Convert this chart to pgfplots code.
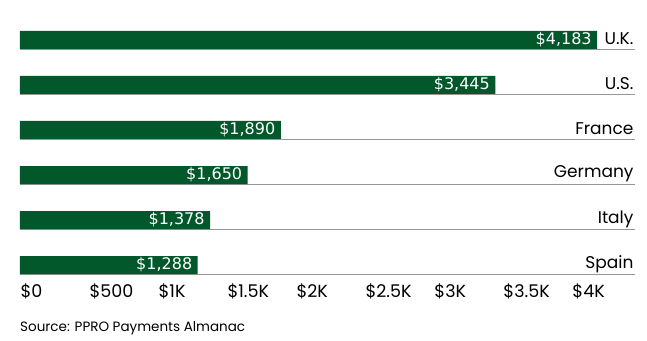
\documentclass[border=0pt]{standalone}
\usepackage{fontspec}
\setmainfont{Poppins}
\newfontfamily\valfont{DejaVu Sans}
\usepackage{pgfplots}
\usetikzlibrary{calc}
\pgfplotsset{compat=1.18}
\definecolor{bargreen}{RGB}{2,88,42}
\definecolor{linegray}{RGB}{150,150,150}
\begin{document}
\begin{tikzpicture}[x=1pt,y=1pt]
\begin{axis}[
  name=ax, at={(0,0)}, anchor=south west, scale only axis,
  width=615pt, height=270pt,
  xmin=0, xmax=4457, ymin=-0.5, ymax=5.5,
  axis line style={draw=none}, tick style={draw=none},
  xtick={0,500,1000,1500,2000,2500,3000,3500,4000},
  xticklabels={\$0,\$500,\$1K,\$1.5K,\$2K,\$2.5K,\$3K,\$3.5K,\$4K},
  xticklabel style={anchor=north west, font=\fontsize{17.5}{17.5}\selectfont, xshift=-3pt, yshift=7pt},
  ytick={0,1,2,3,4,5},
  yticklabels={Spain,Italy,Germany,France,U.S.,U.K.},
  yticklabel pos=right,
  yticklabel style={anchor=east, font=\fontsize{17}{17}\selectfont, xshift=2pt, yshift=1pt},
  clip=false,
]
\pgfplotsinvokeforeach{0,...,5}{
  \addplot[linegray, line width=0.8pt, no marks] coordinates {(0,#1-0.2) (4457,#1-0.2)};
}
\addplot[xbar, bar width=18pt, fill=bargreen, draw=none,
  point meta=explicit symbolic,
  nodes near coords, every node near coord/.append style={anchor=east, text=white, font=\valfont\fontsize{16}{16}\selectfont, xshift=-2pt}]
  coordinates {
    (4183,5) [\$4,183]
    (3445,4) [\$3,445]
    (1890,3) [\$1,890]
    (1650,2) [\$1,650]
    (1378,1) [\$1,378]
    (1288,0) [\$1,288]
  };
\end{axis}
\node[anchor=west, inner sep=0pt, font=\fontsize{13.5}{13.5}\selectfont] at ($(ax.south west)+(0,-40.5)$) {Source: PPRO Payments Almanac};
\pgfresetboundingbox
\path[use as bounding box] ($(ax.south west)+(-20,-52.5)$) rectangle ++(647,340);
\end{tikzpicture}
\end{document}
